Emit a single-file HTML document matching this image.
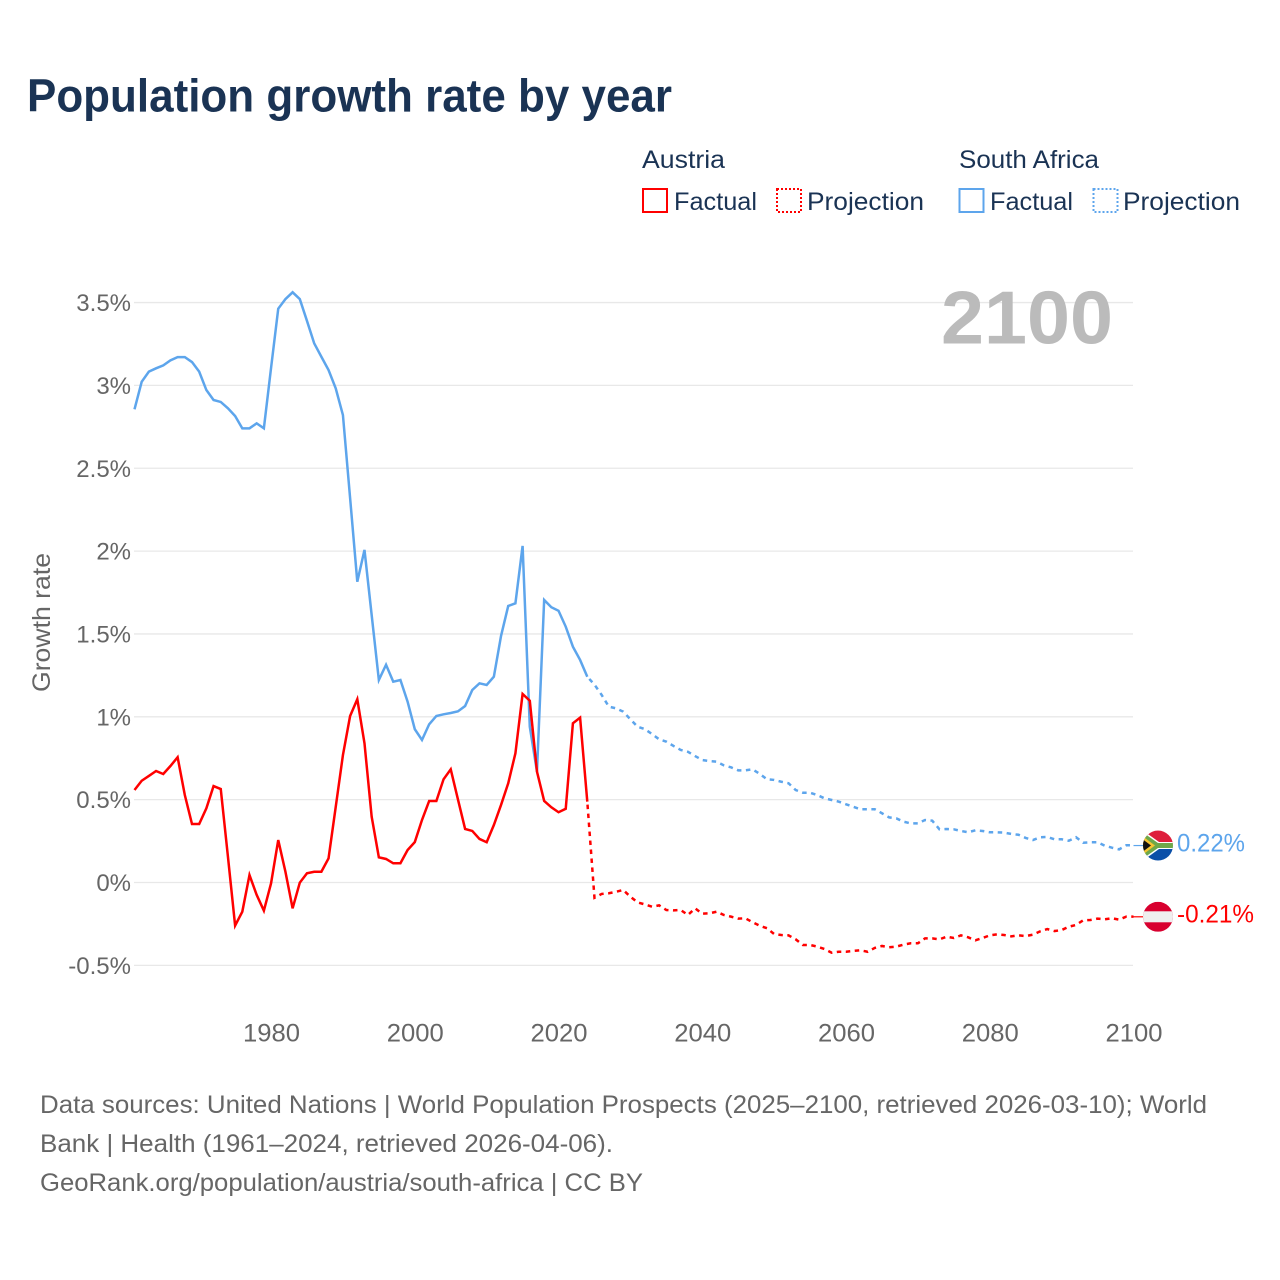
<!DOCTYPE html>
<html lang="en">
<head>
<meta charset="utf-8">
<title>Population growth rate by year</title>
<style>
html,body{margin:0;padding:0;background:#fff;}
svg{display:block;}
text{font-family:"Liberation Sans",sans-serif;}
</style>
</head>
<body>
<svg id="chart" xmlns="http://www.w3.org/2000/svg" width="1280" height="1280" viewBox="0 0 1280 1280">
  <defs>
    <clipPath id="clip-sa"><circle cx="0" cy="0" r="15"/></clipPath>
    <clipPath id="clip-at"><circle cx="0" cy="0" r="15"/></clipPath>
  </defs>
  <rect x="0" y="0" width="1280" height="1280" fill="#ffffff"/>
  <text x="27" y="111.5" font-size="46" font-weight="700" fill="#1a3354" textLength="645" lengthAdjust="spacingAndGlyphs">Population growth rate by year</text>

  <g fill="#1a3354" font-size="25">
    <text x="642" y="168" textLength="83" lengthAdjust="spacingAndGlyphs">Austria</text>
    <text x="959" y="168" textLength="140" lengthAdjust="spacingAndGlyphs">South Africa</text>
    <rect x="643" y="189" width="24" height="23" fill="none" stroke="#ff0000" stroke-width="2"/>
    <text x="674" y="210" textLength="83" lengthAdjust="spacingAndGlyphs">Factual</text>
    <rect x="777" y="189" width="24" height="23" fill="none" stroke="#ff0000" stroke-width="2" stroke-dasharray="2 2"/>
    <text x="807" y="210" textLength="117" lengthAdjust="spacingAndGlyphs">Projection</text>
    <rect x="959.5" y="189" width="24" height="23" fill="none" stroke="#5da5ec" stroke-width="2"/>
    <text x="990" y="210" textLength="83" lengthAdjust="spacingAndGlyphs">Factual</text>
    <rect x="1093.5" y="189" width="24" height="23" fill="none" stroke="#5da5ec" stroke-width="2" stroke-dasharray="2 2"/>
    <text x="1123" y="210" textLength="117" lengthAdjust="spacingAndGlyphs">Projection</text>
  </g>

  <g id="grid"></g>
  <g id="y-ticks"></g>
  <g id="x-ticks"></g>
  <text transform="translate(50,622.5) rotate(-90)" text-anchor="middle" font-size="25" fill="#666666" textLength="139" lengthAdjust="spacingAndGlyphs">Growth rate</text>
  <text id="year-label" x="941" y="343.5" font-size="75" font-weight="700" fill="#bbbbbb" textLength="172" lengthAdjust="spacingAndGlyphs">2100</text>

  <g id="series"></g>

  <g id="flag-sa">
    <g clip-path="url(#clip-sa)">
      <rect x="-15" y="-15" width="30" height="15" fill="#de1f3c"/>
      <rect x="-15" y="0" width="30" height="15" fill="#0a4fa8"/>
      <path d="M-15,-15 L1,-3.5 L15,-3.5 L15,3.5 L1,3.5 L-15,15 Z" fill="#ffffff"/>
      <path d="M-15,-13 L0,-2.5 L15,-2.5 L15,2.5 L0,2.5 L-15,13 Z" fill="#6fa84a"/>
      <path d="M-15,-9 L-3,0 L-15,9 Z" fill="#f6c431"/>
      <path d="M-15,-6 L-7,0 L-15,6 Z" fill="#111111"/>
    </g>
  </g>
  <g id="flag-at">
    <g clip-path="url(#clip-at)">
      <rect x="-15" y="-15" width="30" height="30" fill="#d8002f"/>
      <rect x="-15" y="-5.5" width="30" height="11" fill="#efefef"/>
    </g>
  </g>
  <text id="value-sa" x="1177" y="851.5" font-size="25" fill="#5da5ec" textLength="68" lengthAdjust="spacingAndGlyphs">0.22%</text>
  <text id="value-at" x="1177" y="922.5" font-size="25" fill="#ff0000" textLength="77" lengthAdjust="spacingAndGlyphs">-0.21%</text>

  <g font-size="25" fill="#666666">
    <text x="40" y="1113" textLength="1167" lengthAdjust="spacingAndGlyphs">Data sources: United Nations | World Population Prospects (2025–2100, retrieved 2026-03-10); World</text>
    <text x="40" y="1152" textLength="573" lengthAdjust="spacingAndGlyphs">Bank | Health (1961–2024, retrieved 2026-04-06).</text>
    <text x="40" y="1191" textLength="603" lengthAdjust="spacingAndGlyphs">GeoRank.org/population/austria/south-africa | CC BY</text>
  </g>
</svg>
<script>
const yTickValues = [-0.5, 0, 0.5, 1, 1.5, 2, 2.5, 3, 3.5];
const yTickLabels = ["-0.5%", "0%", "0.5%", "1%", "1.5%", "2%", "2.5%", "3%", "3.5%"];
const xTickValues = [1980, 2000, 2020, 2040, 2060, 2080, 2100];
const xTickLabels = ["1980", "2000", "2020", "2040", "2060", "2080", "2100"];
const factualStartYear = 1961;
const projectionStartYear = 2024;

const southAfricaFactual = [
  2.856, 3.022, 3.083, 3.103, 3.121, 3.151, 3.171, 3.171, 3.141, 3.083,
  2.972, 2.912, 2.900, 2.862, 2.815, 2.741, 2.741, 2.771, 2.741, 3.105,
  3.463, 3.521, 3.562, 3.521, 3.389, 3.254, 3.173, 3.093, 2.982, 2.821,
  2.320, 1.815, 2.007, 1.614, 1.222, 1.314, 1.212, 1.222, 1.091, 0.925,
  0.860, 0.955, 1.005, 1.015, 1.023, 1.033, 1.065, 1.162, 1.202, 1.192,
  1.242, 1.488, 1.669, 1.685, 2.031, 0.940, 0.669, 1.705, 1.661, 1.640,
  1.544, 1.423, 1.343, 1.242
];
const southAfricaProjection = [
  1.242, 1.194, 1.132, 1.061, 1.051, 1.031, 0.985, 0.940, 0.926, 0.896,
  0.864, 0.850, 0.824, 0.800, 0.789, 0.763, 0.739, 0.733, 0.729, 0.707,
  0.695, 0.677, 0.677, 0.683, 0.655, 0.623, 0.619, 0.608, 0.599, 0.558,
  0.542, 0.542, 0.528, 0.508, 0.498, 0.488, 0.472, 0.457, 0.442, 0.442,
  0.442, 0.418, 0.393, 0.387, 0.367, 0.357, 0.357, 0.377, 0.373, 0.321,
  0.323, 0.321, 0.311, 0.303, 0.315, 0.311, 0.303, 0.303, 0.301, 0.293,
  0.288, 0.269, 0.256, 0.273, 0.275, 0.261, 0.261, 0.252, 0.273, 0.240,
  0.243, 0.243, 0.222, 0.210, 0.200, 0.225, 0.225
];
const austriaFactual = [
  0.558, 0.614, 0.643, 0.673, 0.655, 0.703, 0.756, 0.528, 0.353, 0.353,
  0.448, 0.582, 0.564, 0.156, -0.260, -0.176, 0.045, -0.075, -0.170, -0.005,
  0.256, 0.065, -0.156, -0.001, 0.056, 0.065, 0.065, 0.146, 0.457, 0.769,
  1.005, 1.106, 0.840, 0.397, 0.152, 0.142, 0.116, 0.116, 0.196, 0.244,
  0.377, 0.492, 0.492, 0.623, 0.683, 0.502, 0.323, 0.311, 0.263, 0.243,
  0.347, 0.468, 0.599, 0.780, 1.138, 1.097, 0.669, 0.492, 0.454, 0.424,
  0.445, 0.961, 0.995, 0.488
];
const austriaProjection = [
  0.488, -0.092, -0.069, -0.065, -0.056, -0.045, -0.086, -0.120, -0.132, -0.146,
  -0.138, -0.166, -0.168, -0.166, -0.196, -0.156, -0.188, -0.186, -0.176, -0.196,
  -0.206, -0.218, -0.216, -0.240, -0.261, -0.276, -0.311, -0.317, -0.319, -0.343,
  -0.377, -0.377, -0.387, -0.401, -0.424, -0.418, -0.418, -0.413, -0.409, -0.418,
  -0.395, -0.383, -0.391, -0.387, -0.375, -0.367, -0.367, -0.337, -0.337, -0.343,
  -0.327, -0.335, -0.319, -0.331, -0.349, -0.335, -0.319, -0.313, -0.317, -0.325,
  -0.319, -0.323, -0.315, -0.295, -0.281, -0.293, -0.287, -0.267, -0.256, -0.228,
  -0.226, -0.218, -0.222, -0.216, -0.224, -0.206, -0.206
];
const southAfricaEndValue = 0.22;
const austriaEndValue = -0.21;

const SVG_NS = "http://www.w3.org/2000/svg";
const RED = "#ff0000";
const BLUE = "#5da5ec";

function xScale(year) { return 134.5 + (year - 1961) * 7.1871; }
function yScale(value) { return 882.5 - value * 165.7; }

function linePoints(values, startYear) {
  return values.map(function (v, i) {
    return xScale(startYear + i).toFixed(2) + "," + yScale(v).toFixed(2);
  }).join(" ");
}

const gridGroup = document.getElementById("grid");
const yTickGroup = document.getElementById("y-ticks");
yTickValues.forEach(function (v, i) {
  const line = document.createElementNS(SVG_NS, "line");
  line.setAttribute("x1", 134);
  line.setAttribute("x2", 1133);
  line.setAttribute("y1", yScale(v));
  line.setAttribute("y2", yScale(v));
  line.setAttribute("stroke", "#e8e8e8");
  line.setAttribute("stroke-width", "1.3");
  
  
  gridGroup.appendChild(line);

  const label = document.createElementNS(SVG_NS, "text");
  label.setAttribute("x", 131);
  label.setAttribute("y", yScale(v) + 8.5);
  label.setAttribute("text-anchor", "end");
  label.setAttribute("font-size", "24");
  label.setAttribute("fill", "#666666");
  label.textContent = yTickLabels[i];
  
  
  yTickGroup.appendChild(label);
});

const xTickGroup = document.getElementById("x-ticks");
xTickValues.forEach(function (v, i) {
  const label = document.createElementNS(SVG_NS, "text");
  label.setAttribute("x", xScale(v) + 0.5);
  label.setAttribute("y", 1041.5);
  label.setAttribute("text-anchor", "middle");
  label.setAttribute("font-size", "25");
  label.setAttribute("fill", "#666666");
  label.setAttribute("textLength", "57");
  label.setAttribute("lengthAdjust", "spacingAndGlyphs");
  label.textContent = xTickLabels[i];
  
  
  xTickGroup.appendChild(label);
});

const seriesGroup = document.getElementById("series");

const saFactualLine = document.createElementNS(SVG_NS, "polyline");
saFactualLine.setAttribute("points", linePoints(southAfricaFactual, factualStartYear));
saFactualLine.setAttribute("fill", "none");
saFactualLine.setAttribute("stroke", BLUE);
saFactualLine.setAttribute("stroke-width", "2.5");


seriesGroup.appendChild(saFactualLine);

const saProjectionLine = document.createElementNS(SVG_NS, "polyline");
saProjectionLine.setAttribute("points", linePoints(southAfricaProjection, projectionStartYear));
saProjectionLine.setAttribute("fill", "none");
saProjectionLine.setAttribute("stroke", BLUE);
saProjectionLine.setAttribute("stroke-width", "2.5");
saProjectionLine.setAttribute("stroke-dasharray", "4.5 4.5");
saProjectionLine.setAttribute("stroke-dashoffset", "-3");


seriesGroup.appendChild(saProjectionLine);

const atFactualLine = document.createElementNS(SVG_NS, "polyline");
atFactualLine.setAttribute("points", linePoints(austriaFactual, factualStartYear));
atFactualLine.setAttribute("fill", "none");
atFactualLine.setAttribute("stroke", RED);
atFactualLine.setAttribute("stroke-width", "2.5");


seriesGroup.appendChild(atFactualLine);

const atProjectionLine = document.createElementNS(SVG_NS, "polyline");
atProjectionLine.setAttribute("points", linePoints(austriaProjection, projectionStartYear));
atProjectionLine.setAttribute("fill", "none");
atProjectionLine.setAttribute("stroke", RED);
atProjectionLine.setAttribute("stroke-width", "2.5");
atProjectionLine.setAttribute("stroke-dasharray", "4.5 4.5");
atProjectionLine.setAttribute("stroke-dashoffset", "-3");


seriesGroup.appendChild(atProjectionLine);

const saConnector = document.createElementNS(SVG_NS, "line");
saConnector.setAttribute("x1", xScale(2100));
saConnector.setAttribute("x2", 1143);
saConnector.setAttribute("y1", yScale(southAfricaEndValue) - 0.5);
saConnector.setAttribute("y2", yScale(southAfricaEndValue) - 0.5);
saConnector.setAttribute("stroke", BLUE);
saConnector.setAttribute("stroke-width", "1.2");


seriesGroup.appendChild(saConnector);

const atConnector = document.createElementNS(SVG_NS, "line");
atConnector.setAttribute("x1", xScale(2100));
atConnector.setAttribute("x2", 1143);
atConnector.setAttribute("y1", yScale(austriaEndValue) - 0.5);
atConnector.setAttribute("y2", yScale(austriaEndValue) - 0.5);
atConnector.setAttribute("stroke", RED);
atConnector.setAttribute("stroke-width", "1.2");


seriesGroup.appendChild(atConnector);

document.getElementById("flag-sa").setAttribute("transform", "translate(1158," + (yScale(southAfricaEndValue) - 0.5) + ")");
document.getElementById("flag-at").setAttribute("transform", "translate(1158," + (yScale(austriaEndValue) - 0.5) + ")");
</script>
</body>
</html>
